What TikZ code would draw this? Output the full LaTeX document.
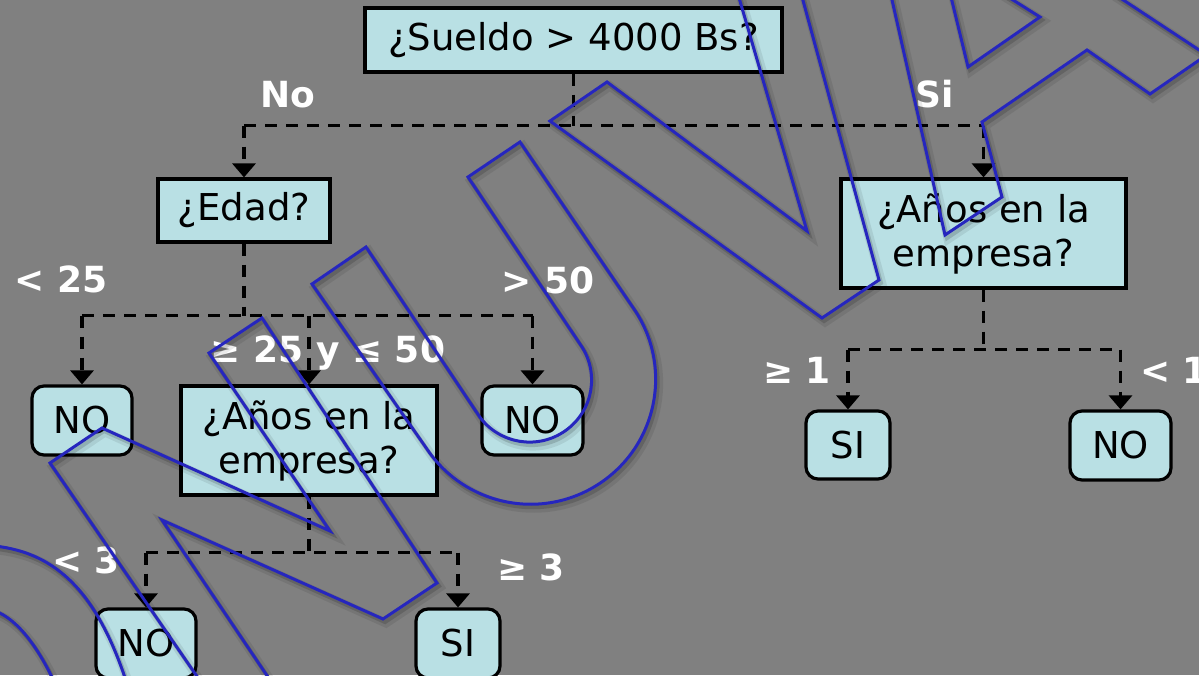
\documentclass[tikz,border=0pt]{standalone}
\usepackage{fontspec}
\setmainfont{DejaVu Sans}
\usetikzlibrary{arrows.meta}
\definecolor{bg}{RGB}{128,128,128}
\definecolor{boxfill}{RGB}{185,224,228}
\definecolor{wmblue}{RGB}{38,38,190}
\newcommand\wmpath[1]{\draw[wmsha] #1; \draw[wmsh] #1; \draw[wm] #1;}
\begin{document}
\begin{tikzpicture}[x=1pt,y=-1pt,
  qbox/.style={draw=black, line width=3.2pt, fill=boxfill, inner sep=0pt, align=center, font=\fontsize{37}{44}\selectfont},
  leaf/.style={qbox, rounded corners=12pt},
  lbl/.style={text=white, font=\fontsize{36}{43}\selectfont\bfseries, inner sep=0pt, anchor=base},
  conn/.style={draw=black, line width=3.2pt, dash pattern=on 12pt off 9pt},
  arr/.style={conn, -{Triangle[width=23pt,length=14pt]}},
  wm/.style={draw=wmblue, line width=3pt, line join=miter},
  wmsh/.style={draw=black, opacity=0.15, line width=4pt, shift={(2,3)}},
  wmsha/.style={draw=black, opacity=0.08, line width=9pt, shift={(3,4)}}
]
\fill[bg] (0,0) rectangle (1199,675);
\useasboundingbox (0,0) rectangle (1199,675);

% decision boxes
\node[qbox, minimum width=417pt, minimum height=64pt] (sueldo) at (573.5,40) {¿Sueldo > 4000 Bs?};
\node[qbox, minimum width=172pt, minimum height=63pt] (edad) at (244,210.5) {¿Edad?};
\node[qbox, minimum width=285pt, minimum height=109pt] (anios1) at (983.5,233.5) {¿Años en la\\empresa?};
\node[qbox, minimum width=256pt, minimum height=109pt] (anios2) at (309,440.5) {¿Años en la\\empresa?};

% leaves
\node[leaf, minimum width=100pt, minimum height=69pt] (noA) at (82,420.5) {NO};
\node[leaf, minimum width=101pt, minimum height=69pt] (noB) at (532.5,420.5) {NO};
\node[leaf, minimum width=84pt, minimum height=68pt] (si1) at (848,445) {SI};
\node[leaf, minimum width=101pt, minimum height=69pt] (no1) at (1120.5,445.5) {NO};
\node[leaf, minimum width=100pt, minimum height=69pt] (noC) at (146,643.5) {NO};
\node[leaf, minimum width=84pt, minimum height=69pt] (siC) at (458,643.5) {SI};

% connectors
\path (sueldo.south) ++(0,52) coordinate (j1);
\draw[conn] (sueldo.south) -- (j1);
\draw[conn] (edad.north |- j1) -- (anios1.north |- j1);
\draw[arr] (edad.north |- j1) -- (edad.north);
\draw[arr] (anios1.north |- j1) -- (anios1.north);

\path (edad.south) ++(0,72) coordinate (j2);
\draw[conn] (edad.south) -- (j2);
\draw[conn] (noA.north |- j2) -- (noB.north |- j2);
\draw[arr] (noA.north |- j2) -- (noA.north);
\draw[arr] (anios2.north |- j2) -- (anios2.north);
\draw[arr] (noB.north |- j2) -- (noB.north);

\path (anios2.south) ++(0,56) coordinate (j3);
\draw[conn] (anios2.south) -- (j3);
\draw[conn] (noC.north |- j3) -- (siC.north |- j3);
\draw[arr] (noC.north |- j3) -- (noC.north);
\draw[arr] (siC.north |- j3) -- (siC.north);

\path (anios1.south) ++(0,60) coordinate (j4);
\draw[conn] (anios1.south) -- (j4);
\draw[conn] (si1.north |- j4) -- (no1.north |- j4);
\draw[arr] (si1.north |- j4) -- (si1.north);
\draw[arr] (no1.north |- j4) -- (no1.north);

% labels
\node[lbl] (lNo) at (288,107) {No};
\node[lbl] (lSi) at (935,107) {Si};
\node[lbl] (l25) at (61,292) {< 25};
\node[lbl] (l50) at (548,293) {> 50};
\node[lbl] (lmid) at (328,362) {≥ 25 y ≤ 50};
\node[lbl] (l3a) at (86,573) {< 3};
\node[lbl] (l3b) at (531,580) {≥ 3};
\node[lbl] (l1a) at (797,383) {≥ 1};
\node[lbl, anchor=base west] (l1b) at (1140,383) {< 1};

% watermark outlines
\begin{scope}
\clip (0,0) rectangle (1199,675);
\wmpath{(-5,546) .. controls (55,553) and (100,590) .. (132,700)}
\wmpath{(-5,611) .. controls (15,618) and (40,645) .. (62,700)}
\wmpath{(50,463) -- (102,428) -- (330,531) -- (209,353) -- (262,318) -- (437,583) -- (383,619) -- (162,520) -- (297,720) -- (227,720) -- cycle}
\wmpath{(312,284) -- (429,452) arc[start angle=144.4, end angle=-35.6, radius=125] -- (520,142) -- (468,177) -- (580,344) arc[start angle=-35.6, end angle=144.4, radius=62] -- (366,247) -- cycle}
\wmpath{(550,121) -- (607,82) -- (807,231) -- (728,-40) -- (792,-40) -- (879,280) -- (822,318) -- cycle}
\wmpath{(883,-40) -- (945,235) -- (1002,197) -- (982,122) -- (1087,50) -- (1150,94) -- (1240,32)}
\wmpath{(942,-40) -- (968,67) -- (1040,17) -- (1013,0) -- (989,-15)}
\wmpath{(1093,-20) -- (1240,77)}
\end{scope}
\end{tikzpicture}
\end{document}
